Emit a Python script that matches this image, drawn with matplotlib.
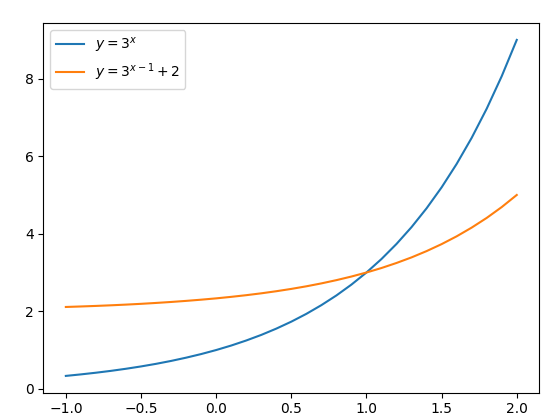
import matplotlib
matplotlib.use('Agg')
import matplotlib.pyplot as plt

x_vals = [-1.0, -0.9, -0.8, -0.7, -0.6, -0.5, -0.4, -0.3, -0.2, -0.1, 0.0,
          0.1, 0.2, 0.3, 0.4, 0.5, 0.6, 0.7, 0.8, 0.9, 1.0,
          1.1, 1.2, 1.3, 1.4, 1.5, 1.6, 1.7, 1.8, 1.9, 2.0]
y_exp = [0.333, 0.372, 0.415, 0.463, 0.517, 0.577, 0.644, 0.719, 0.803, 0.896, 1.000,
         1.116, 1.246, 1.390, 1.552, 1.732, 1.933, 2.158, 2.408, 2.688, 3.000,
         3.348, 3.737, 4.171, 4.656, 5.196, 5.800, 6.473, 7.225, 8.064, 9.000]
y_shift = [2.111, 2.124, 2.138, 2.154, 2.172, 2.192, 2.215, 2.240, 2.268, 2.299, 2.333,
           2.372, 2.415, 2.463, 2.517, 2.577, 2.644, 2.719, 2.803, 2.896, 3.000,
           3.116, 3.246, 3.390, 3.552, 3.732, 3.933, 4.158, 4.408, 4.688, 5.000]

fig = plt.figure(figsize=(5.59, 4.2), dpi=100)
ax = fig.add_axes([43.3 / 559, 27.3 / 420, 496 / 559, 369.6 / 420])

ax.plot(x_vals, y_exp, label=r'$y=3^x$')
ax.plot(x_vals, y_shift, label=r'$y=3^{x-1}+2$')
ax.legend(loc='upper left')

fig.savefig('out.png', dpi=100)
